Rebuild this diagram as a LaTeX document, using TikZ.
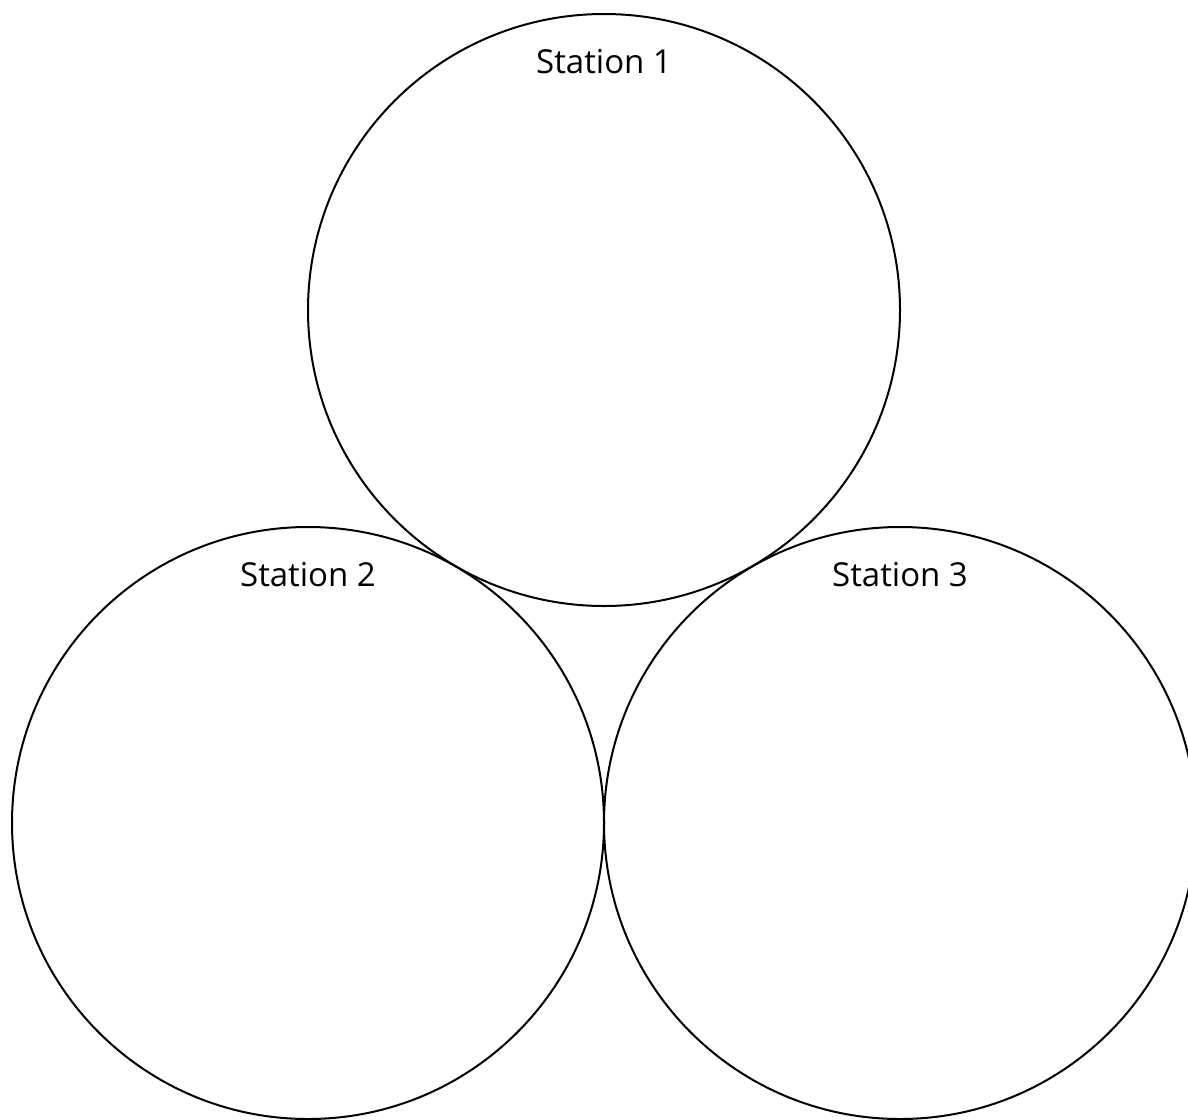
\documentclass[tikz,border=0pt]{standalone}
\usepackage{fontspec}
\setmainfont{Open Sans}
\begin{document}
\begin{tikzpicture}[x=1pt,y=-1pt,
  station/.style={circle,draw=black,line width=2pt,minimum size=592pt,inner sep=0pt},
  label/.style={font=\fontsize{33}{38}\selectfont}]
\useasboundingbox (0,0) rectangle (1188,1119);
\node[station] (c1) at (604,310) {};
\node[station] (c2) at (308,823) {};
\node[station] (c3) at (900,823) {};
\node[label] (t1) at (604,62) {Station 1};
\node[label] (t2) at (308,575) {Station 2};
\node[label] (t3) at (900,575) {Station 3};
\end{tikzpicture}
\end{document}
